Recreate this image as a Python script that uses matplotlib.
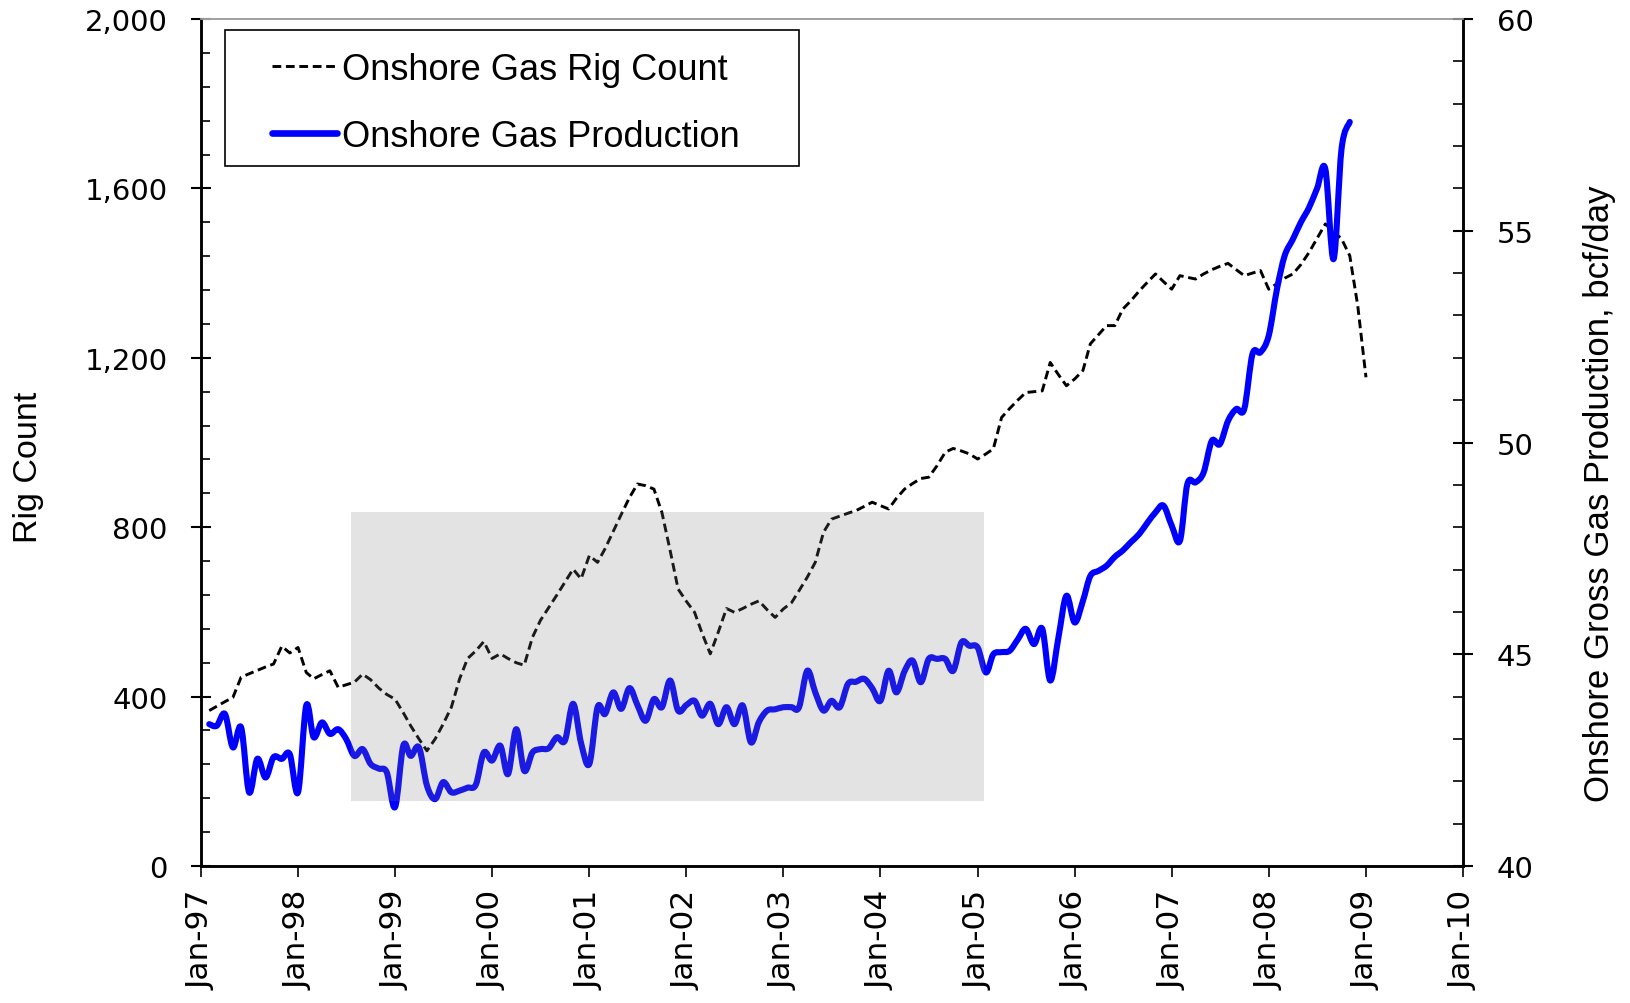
import matplotlib
matplotlib.use("Agg")
import matplotlib.pyplot as plt
import matplotlib.dates as mdates
from matplotlib.path import Path
from matplotlib.patches import PathPatch, Rectangle
from matplotlib.lines import Line2D
import numpy as np
import pandas as pd

# monthly onshore gas rig count (left axis), Feb-97 .. Jan-09
rig_start = "1997-02-01"
rig_count = [
    367, 377, 388, 398, 446, 454, 462, 470, 477, 519, 503, 516,
    457, 442, 452, 461, 422, 428, 434, 453, 440, 420, 405, 394,
    362, 331, 300, 272, 300, 335, 375, 442, 490, 508, 530, 490,
    501, 490, 480, 474, 540, 580, 610, 640, 670, 701, 678, 733,
    717, 749, 790, 830, 870, 902, 898, 890, 835, 745, 654, 625,
    599, 550, 501, 552, 608, 599, 608, 618, 626, 605, 587, 607,
    622, 650, 682, 717, 788, 819, 826, 833, 839, 849, 859, 851,
    843, 868, 890, 903, 915, 918, 945, 977, 986, 980, 973, 961,
    973, 985, 1059, 1080, 1100, 1118, 1120, 1122, 1189, 1160, 1134, 1150,
    1170, 1233, 1255, 1276, 1276, 1315, 1335, 1358, 1378, 1398, 1380, 1362,
    1394, 1390, 1386, 1398, 1408, 1416, 1423, 1408, 1394, 1400, 1406, 1362,
    1375, 1388, 1398, 1420, 1449, 1482, 1516, 1498, 1481, 1441, 1323, 1154,
]

# monthly onshore gross gas production, bcf/day (right axis), Feb-97 .. Nov-08
prod_start = "1997-02-01"
gas_prod = [
    43.35, 43.31, 43.59, 42.80, 43.27, 41.74, 42.53, 42.09, 42.57, 42.53, 42.64, 41.74,
    43.79, 43.04, 43.39, 43.12, 43.23, 43.00, 42.60, 42.76, 42.41, 42.30, 42.21, 41.39,
    42.84, 42.60, 42.80, 41.90, 41.58, 41.98, 41.74, 41.78, 41.85, 41.92, 42.68, 42.49,
    42.84, 42.17, 43.23, 42.25, 42.68, 42.76, 42.78, 43.04, 42.96, 43.83, 42.90, 42.41,
    43.75, 43.59, 44.10, 43.71, 44.20, 43.80, 43.43, 43.94, 43.75, 44.38, 43.67, 43.80,
    43.90, 43.55, 43.83, 43.35, 43.75, 43.35, 43.79, 42.92, 43.40, 43.67, 43.70, 43.75,
    43.75, 43.75, 44.61, 44.10, 43.67, 43.90, 43.75, 44.30, 44.35, 44.42, 44.20, 43.90,
    44.61, 44.10, 44.60, 44.85, 44.34, 44.89, 44.89, 44.89, 44.61, 45.28, 45.20, 45.16,
    44.57, 45.00, 45.05, 45.08, 45.35, 45.60, 45.24, 45.60, 44.38, 45.40, 46.38, 45.75,
    46.26, 46.85, 46.97, 47.09, 47.30, 47.45, 47.65, 47.84, 48.10, 48.35, 48.51, 48.04,
    47.68, 49.02, 49.06, 49.29, 50.04, 49.96, 50.51, 50.79, 50.79, 52.09, 52.13, 52.52,
    53.62, 54.41, 54.80, 55.20, 55.55, 56.00, 56.46, 54.33, 56.93, 57.57,
]

# shaded period (dates, right-axis units)
shade_x = ["1998-07-20", "2005-01-25"]
shade_y = [41.53, 48.36]

rig_dates = pd.date_range(rig_start, periods=len(rig_count), freq="MS")
prod_dates = pd.date_range(prod_start, periods=len(gas_prod), freq="MS")

NARROW = "Liberation Sans"
TICKS = "DejaVu Sans"
W, H = 1630, 1004


def smooth_path(x, y):
    # excel-style smoothed line: catmull-rom segments as cubic beziers
    p = np.column_stack([x, y])
    ext = np.vstack([p[0], p, p[-1]])
    verts = [p[0]]
    codes = [Path.MOVETO]
    for i in range(len(p) - 1):
        a, b, c, d = ext[i], ext[i + 1], ext[i + 2], ext[i + 3]
        verts += [b + (c - a) / 6, c - (d - b) / 6, c]
        codes += [Path.CURVE4] * 3
    return Path(verts, codes)


fig = plt.figure(figsize=(W / 100, H / 100), dpi=100)
ax = fig.add_axes([201 / W, 1 - 867 / H, (1463 - 201) / W, (867 - 20) / H])
ax2 = ax.twinx()

l1, = ax.plot(rig_dates, rig_count, color="black", lw=2.1, dashes=(3.0, 1.6))

px = mdates.date2num(prod_dates)
ax2.add_patch(PathPatch(smooth_path(px, gas_prod), facecolor="none", edgecolor="#0000ff",
                        lw=4.4, capstyle="round", joinstyle="round", zorder=3))
l2 = Line2D([], [], color="#0000ff", lw=4.8, solid_capstyle="round")

x0, x1 = mdates.date2num(pd.to_datetime(shade_x))
ax2.add_patch(Rectangle((x0, shade_y[0]), x1 - x0, shade_y[1] - shade_y[0],
                        facecolor=(0.49, 0.49, 0.49), alpha=0.21, lw=0, zorder=5))

ax.set_xlim(pd.Timestamp("1997-01-01"), pd.Timestamp("2010-01-01"))
ax.set_ylim(0, 2000)
ax2.set_ylim(40, 60)

ax.xaxis.set_major_locator(mdates.YearLocator())
ax.xaxis.set_major_formatter(mdates.DateFormatter("%b-%y"))
ax.set_yticks(range(0, 2001, 400))
ax.set_yticks(range(0, 2001, 80), minor=True)
ax.yaxis.set_major_formatter(matplotlib.ticker.FuncFormatter(lambda v, p: f"{int(v):,}"))
ax2.set_yticks(range(40, 61, 5))
ax2.set_yticks(range(40, 61, 1), minor=True)

ax.tick_params(axis="x", which="major", direction="out", length=8, width=1.2,
               pad=9, labelsize=22.5, labelrotation=90)
ax.tick_params(axis="y", which="major", direction="inout", length=14, width=1.5,
               pad=17, labelsize=21)
ax.tick_params(axis="y", which="minor", direction="in", length=6.5, width=1.2)
ax2.tick_params(axis="y", which="major", direction="inout", length=15, width=1.5,
                pad=17, labelsize=21)
ax2.tick_params(axis="y", which="minor", direction="in", length=7, width=1.2)
for lab in ax.get_xticklabels() + ax.get_yticklabels() + ax2.get_yticklabels():
    lab.set_family(TICKS)

for a in (ax, ax2):
    for side in ("left", "right", "bottom"):
        a.spines[side].set_linewidth(1.8)
    a.spines["top"].set_color("#a0a0a0")
    a.spines["top"].set_linewidth(1.2)

fig.text(29 / W, 1 - 467 / H, "Rig Count", rotation=90, ha="center", va="center",
         family=NARROW, fontsize=24.5)
fig.text(1600 / W, 1 - 494 / H, "Onshore Gross Gas Production, bcf/day", rotation=90,
         ha="center", va="center", family=NARROW, fontsize=25)

# legend box drawn separately so its margins match the original
fig.add_artist(Rectangle((224.5 / W, 1 - 167 / H), (799 - 224.5) / W, (167 - 31) / H,
                         transform=fig.transFigure, facecolor="white", edgecolor="black",
                         lw=1.2, zorder=2))
leg = fig.legend([l1, l2], ["Onshore Gas Rig Count", "Onshore Gas Production"],
                 loc="center left", bbox_to_anchor=(272 / W, 1 - 104 / H),
                 frameon=False, borderpad=0, borderaxespad=0, handlelength=1.8,
                 handletextpad=0.15, labelspacing=0.89,
                 prop={"family": NARROW, "size": 26})
leg.set_zorder(3)

fig.savefig("out.png", dpi=100)
